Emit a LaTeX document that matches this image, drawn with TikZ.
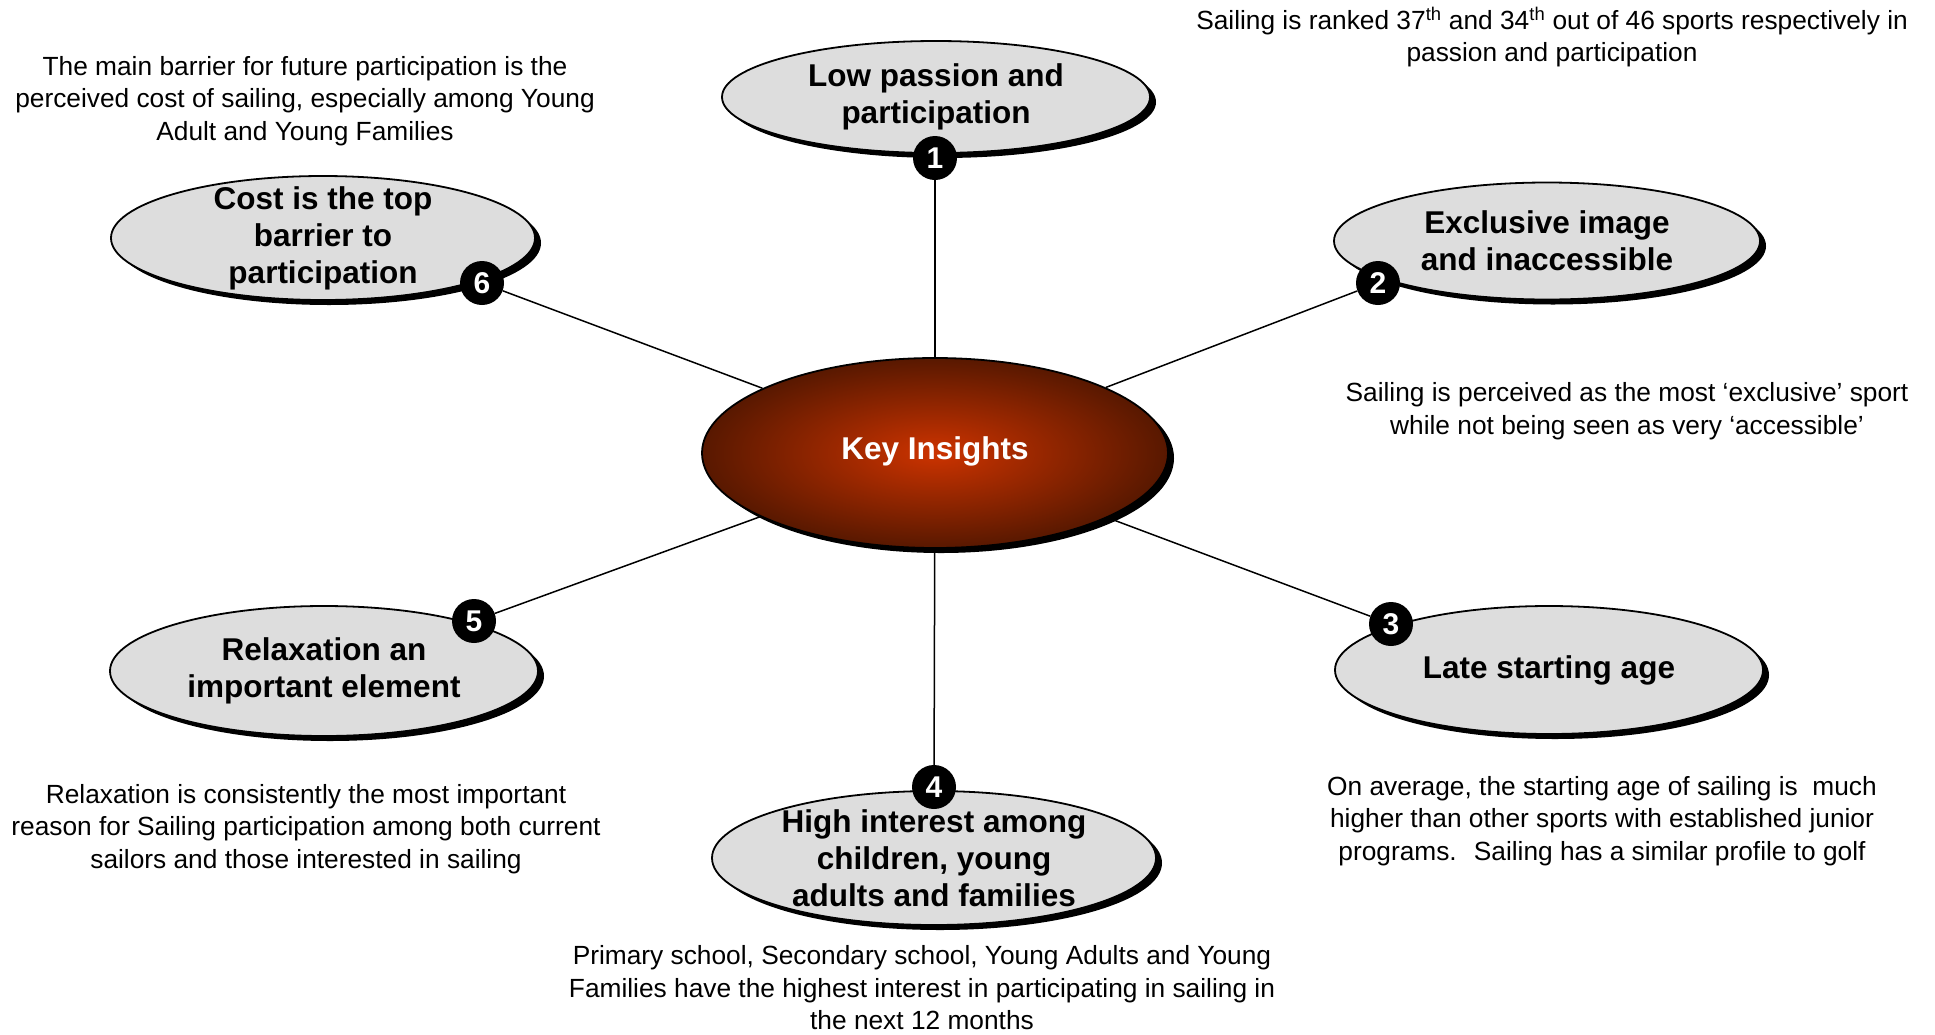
\documentclass[tikz,border=0pt]{standalone}
\usepackage{fontspec}
\setmainfont{Liberation Sans}
\usepackage{xcolor}
\usepackage{tikz}
\usetikzlibrary{shapes.geometric, shadows}

\definecolor{bubblegray}{HTML}{DDDDDD}
\definecolor{keyinner}{HTML}{CC3300}
\definecolor{keyouter}{HTML}{581800}

\begin{document}
\begin{tikzpicture}[x=1pt, y=-1pt,
    bubble/.style={ellipse, draw=black, line width=1.8pt, fill=bubblegray, inner sep=0pt,
      drop shadow={shadow xshift=6pt, shadow yshift=-5pt, fill=black, opacity=1}},
    bubbletext/.style={align=center, font=\fontsize{31.5}{37}\selectfont\bfseries},
    numdot/.style={circle, fill=black, text=white, minimum size=44pt, inner sep=0pt,
      font=\fontsize{30}{30}\selectfont\bfseries},
    note/.style={align=center, font=\fontsize{26.3}{32.5}\selectfont},
    spoke/.style={line width=1.5pt}]
    \useasboundingbox (0,0) rectangle (1935,1034);
    % Centre
    \node[ellipse, draw=black, line width=1.8pt, shading=radial, inner color=keyinner, outer color=keyouter,
      minimum width=466pt, minimum height=190pt, inner sep=0pt,
      drop shadow={shadow xshift=6pt, shadow yshift=-5pt, fill=black, opacity=1}] (key) at (935,453) {};
    \node[text=white, font=\fontsize{31.5}{37}\selectfont\bfseries] (keytext) at (935,451) {Key Insights};
    % Insight bubbles
    \node[bubble, minimum width=428pt, minimum height=112pt] (e1) at (936,97) {};
    \node[bubble, minimum width=426pt, minimum height=117pt] (e2) at (1547,241) {};
    \node[bubble, minimum width=428pt, minimum height=128pt] (e3) at (1549,670) {};
    \node[bubble, minimum width=444pt, minimum height=134pt] (e4) at (934,858) {};
    \node[bubble, minimum width=428pt, minimum height=130pt] (e5) at (324,671) {};
    \node[bubble, minimum width=424pt, minimum height=124pt] (e6) at (323,238) {};
    \node[bubbletext] (l1) at (e1.center) {Low passion and\\participation};
    \node[bubbletext] (l2) at (e2.center) {Exclusive image\\and inaccessible};
    \node[bubbletext] (l3) at (e3.center) {Late starting age};
    \node[bubbletext] (l4) at (e4.center) {High interest among\\children, young\\adults and families};
    \node[bubbletext] (l5) at (e5.center) {Relaxation an\\important element};
    \node[bubbletext] (l6) at (e6.center) {Cost is the top\\barrier to\\participation};
    % Numbers
    \node[numdot] (c1) at (935,158) {1};
    \node[numdot] (c2) at (1378,283) {2};
    \node[numdot] (c3) at (1391,624) {3};
    \node[numdot] (c4) at (934,787) {4};
    \node[numdot] (c5) at (474,621) {5};
    \node[numdot] (c6) at (482,283) {6};
    % Spokes
    \foreach \i in {1,...,6}
      \draw[spoke] (c\i) -- (key);
    % Notes
    \node[note] (n1) at (1552,37) {Sailing is ranked 37\textsuperscript{th} and 34\textsuperscript{th} out of 46 sports respectively in\\passion and participation};
    \node[note] (n2) at (1627,411) {Sailing is perceived as the most ‘exclusive’ sport\\while not being seen as very ‘accessible’};
    \node[note] (n3) at (1602,821) {On average, the starting age of sailing is~ much\\higher than other sports with established junior\\programs.~ Sailing has a similar profile to golf};
    \node[note] (n4) at (922,988) {Primary school, Secondary school, Young Adults and Young\\Families have the highest interest in participating in sailing in\\the next 12 months};
    \node[note] (n5) at (306,829) {Relaxation is consistently the most important\\reason for Sailing participation among both current\\sailors and those interested in sailing};
    \node[note] (n6) at (305,101) {The main barrier for future participation is the\\perceived cost of sailing, especially among Young\\Adult and Young Families};
\end{tikzpicture}
\end{document}
